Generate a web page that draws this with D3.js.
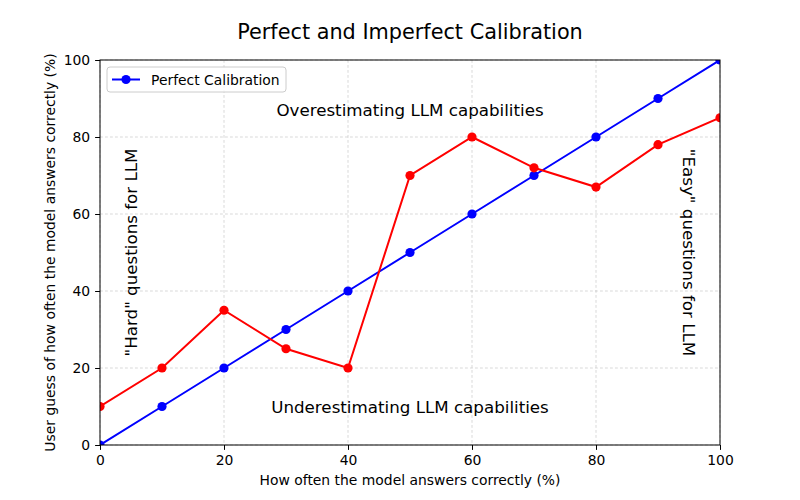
<!DOCTYPE html>
<html lang="en">
<head>
  <meta charset="utf-8">
  <script src="https://d3js.org/d3.v7.min.js"></script>
  <style>
    body { margin: 0; background: #fff; }
    svg { font-family: "DejaVu Sans", sans-serif; }
    .tick text { font-size: 13.9px; fill: #000; }
    .grid line { stroke: #b0b0b0; stroke-width: 0.5; stroke-dasharray: 2.8, 2.2; }
    .note { font-size: 16.7px; fill: #000; }
  </style>
</head>
<body>
<script>
  var accuracy = [0, 10, 20, 30, 40, 50, 60, 70, 80, 90, 100];
  var perfect = [0, 10, 20, 30, 40, 50, 60, 70, 80, 90, 100];
  var guesses = [10, 20, 35, 25, 20, 70, 80, 72, 67, 78, 85];
  var ticks = [0, 20, 40, 60, 80, 100];

  var w = 800, h = 500,
    pLeft = 100, pRight = 720, pTop = 60, pBottom = 445;

  var svg = d3.select("body").append("svg")
    .attr("width", w).attr("height", h);

  var x = d3.scaleLinear().domain([0, 100]).range([pLeft, pRight]);
  var y = d3.scaleLinear().domain([0, 100]).range([pBottom, pTop]);

  // grid
  var grid = svg.append("g").attr("class", "grid");
  grid.selectAll("line.v").data(ticks).enter().append("line")
    .attr("x1", function (d) { return x(d); }).attr("x2", function (d) { return x(d); })
    .attr("y1", pTop).attr("y2", pBottom);
  grid.selectAll("line.h").data(ticks).enter().append("line")
    .attr("y1", function (d) { return y(d); }).attr("y2", function (d) { return y(d); })
    .attr("x1", pLeft).attr("x2", pRight);

  svg.append("clipPath").attr("id", "clip").append("rect")
    .attr("x", pLeft).attr("y", pTop).attr("width", pRight - pLeft).attr("height", pBottom - pTop);

  var plot = svg.append("g").attr("clip-path", "url(#clip)");

  function series(values, color) {
    var pts = accuracy.map(function (a, i) { return [a, values[i]]; });
    plot.append("path")
      .datum(pts)
      .attr("fill", "none")
      .attr("stroke", color)
      .attr("stroke-width", 2)
      .attr("d", d3.line().x(function (d) { return x(d[0]); }).y(function (d) { return y(d[1]); }));
    plot.selectAll(null).data(pts).enter().append("circle")
      .attr("cx", function (d) { return x(d[0]); })
      .attr("cy", function (d) { return y(d[1]); })
      .attr("r", 4.6)
      .attr("fill", color);
  }
  series(perfect, "#0000ff");
  series(guesses, "#ff0000");

  // axes
  var xAxis = svg.append("g").attr("transform", "translate(0," + pBottom + ")")
    .call(d3.axisBottom(x).tickValues(ticks).tickSize(4.9).tickPadding(4.9));
  var yAxis = svg.append("g").attr("transform", "translate(" + pLeft + ",0)")
    .call(d3.axisLeft(y).tickValues(ticks).tickSize(4.9).tickPadding(4.9));
  [xAxis, yAxis].forEach(function (a) {
    a.select(".domain").remove();
    a.selectAll(".tick line").attr("stroke", "#000").attr("stroke-width", 1);
    a.attr("font-family", null).attr("font-size", null);
  });

  svg.append("rect")
    .attr("x", pLeft).attr("y", pTop).attr("width", pRight - pLeft).attr("height", pBottom - pTop)
    .attr("fill", "none").attr("stroke", "#000").attr("stroke-width", 1);

  // labels
  svg.append("text")
    .attr("x", (pLeft + pRight) / 2).attr("y", 39)
    .attr("text-anchor", "middle")
    .attr("font-size", "20.8px")
    .text("Perfect and Imperfect Calibration");

  svg.append("text")
    .attr("x", (pLeft + pRight) / 2).attr("y", 485)
    .attr("text-anchor", "middle")
    .attr("font-size", "13.9px")
    .text("How often the model answers correctly (%)");

  svg.append("text")
    .attr("transform", "translate(55," + (pTop + pBottom) / 2 + ") rotate(-90)")
    .attr("text-anchor", "middle")
    .attr("font-size", "13.9px")
    .text("User guess of how often the model answers correctly (%)");

  // notes
  function note(dx, dy, angle, txt) {
    svg.append("text")
      .attr("class", "note")
      .attr("transform", "translate(" + x(dx) + "," + y(dy) + ") rotate(" + angle + ")")
      .attr("text-anchor", "middle")
      .attr("dominant-baseline", "central")
      .text(txt);
  }
  note(50, 87, 0, "Overestimating LLM capabilities");
  note(50, 10, 0, "Underestimating LLM capabilities");
  note(5, 50, -90, "\"Hard\" questions for LLM");
  note(95, 50, 90, "\"Easy\" questions for LLM");

  // legend
  var lg = svg.append("g").attr("transform", "translate(107,67)");
  lg.append("rect")
    .attr("width", 179).attr("height", 25).attr("rx", 3)
    .attr("fill", "#fff").attr("fill-opacity", 0.8)
    .attr("stroke", "#cccccc").attr("stroke-width", 1);
  lg.append("line").attr("x1", 5).attr("x2", 33).attr("y1", 12.5).attr("y2", 12.5)
    .attr("stroke", "#0000ff").attr("stroke-width", 2);
  lg.append("circle").attr("cx", 19).attr("cy", 12.5).attr("r", 4.6).attr("fill", "#0000ff");
  lg.append("text").attr("x", 44).attr("y", 12.5)
    .attr("dominant-baseline", "central")
    .attr("font-size", "13.9px")
    .text("Perfect Calibration");
</script>
</body>
</html>
